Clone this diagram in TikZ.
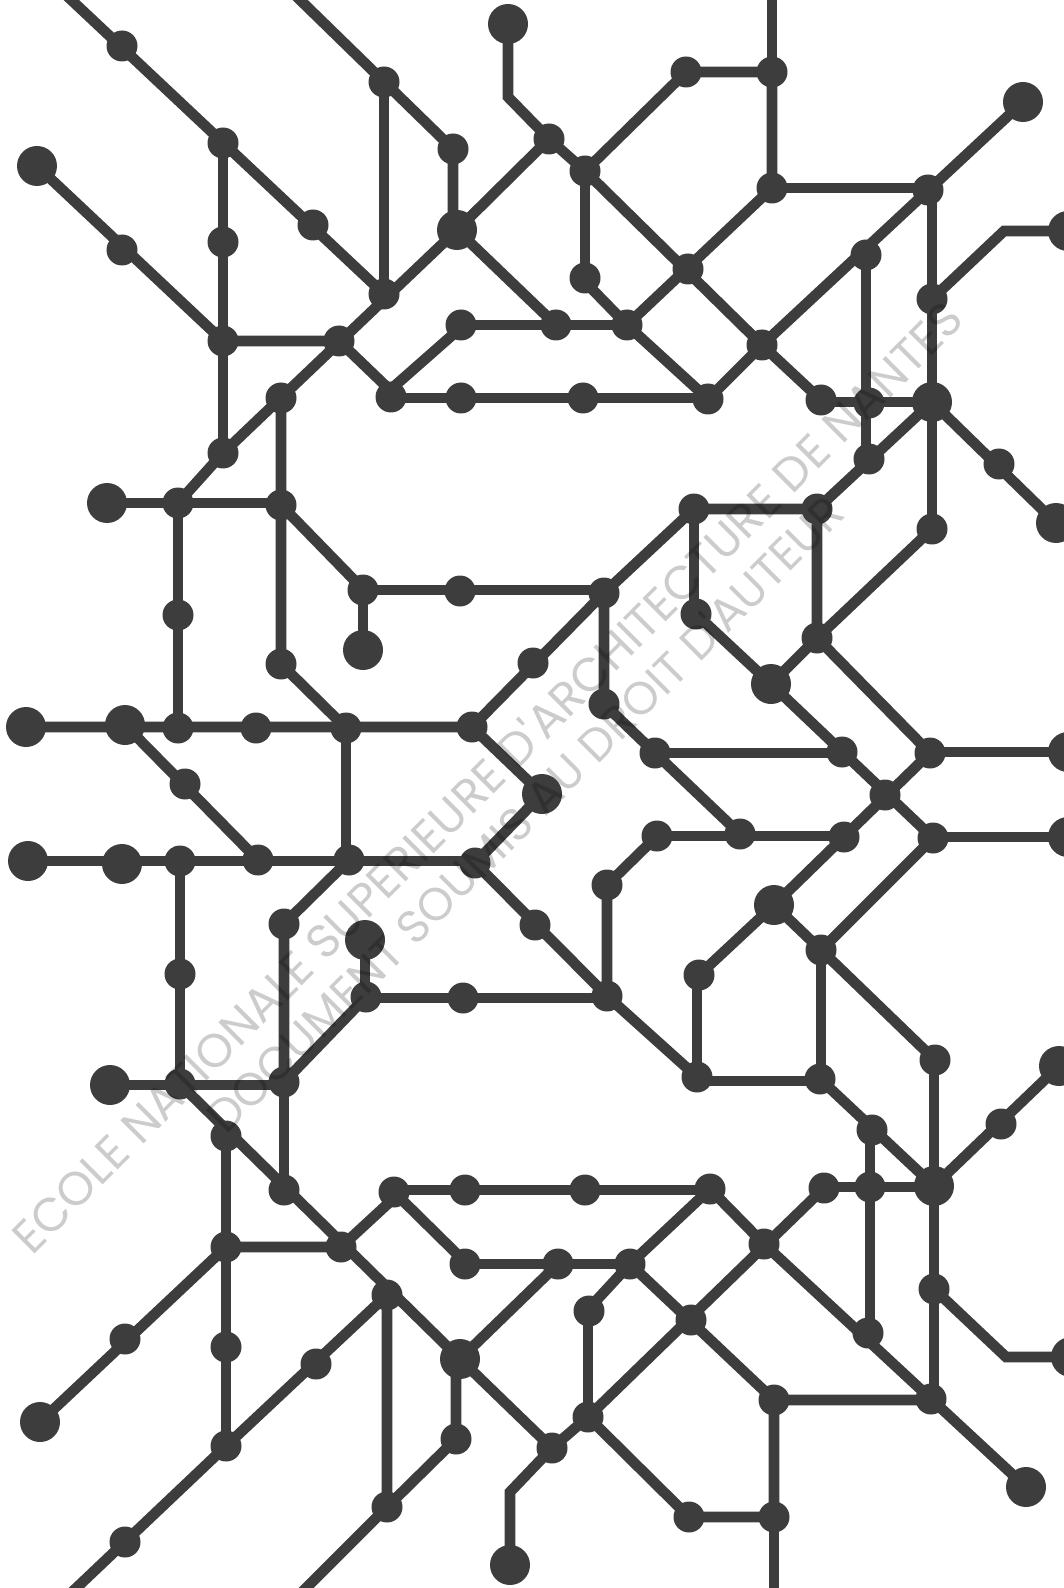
\documentclass[tikz,border=0pt]{standalone}
\usepackage{xcolor}
\usepackage{fontspec}
\newfontfamily\markfont{Poppins}
\definecolor{linegray}{RGB}{61,61,61}
\begin{document}
\begin{tikzpicture}[
  x=0.5pt, y=-0.5pt,
  stopnode/.style={circle, fill=linegray, inner sep=0pt, minimum size=15.5pt},
  hubnode/.style={circle, fill=linegray, inner sep=0pt, minimum size=20pt},
  link/.style={draw=linegray, line width=5.3pt, line join=miter},
  watermark/.style={text=black, text opacity=0.2, rotate=45, font=\markfont\fontsize{23.5}{24}\selectfont, inner sep=0pt}
]
\useasboundingbox (0,0) rectangle (1064,1588);
% upper half
\coordinate (topa) at (66,-5);
\coordinate (topb) at (295,-5);
\coordinate (topc) at (772,-5);
\node[stopnode] (a1) at (122,46) {};
\node[stopnode] (a2) at (223,143) {};
\node[stopnode] (a3) at (313,225) {};
\node[stopnode] (a4) at (384,294) {};
\node[stopnode] (a5) at (384,82) {};
\node[stopnode] (a6) at (453,149) {};
\node[hubnode] (a7) at (457,230) {};
\node[hubnode] (a8) at (508,24) {};
\coordinate (a8b) at (508,97);
\node[hubnode] (a9) at (37,166) {};
\node[stopnode] (a10) at (122,250) {};
\node[stopnode] (a11) at (223,242) {};
\node[stopnode] (a12) at (223,341) {};
\node[stopnode] (a13) at (339,341) {};
\node[stopnode] (a14) at (281,398) {};
\node[stopnode] (a15) at (223,453) {};
\node[stopnode] (a16) at (178,503) {};
\node[stopnode] (a17) at (281,505) {};
\node[hubnode] (a18) at (107,503) {};
\node[stopnode] (a19) at (391,397) {};
\coordinate (a19b) at (390,390);
\node[stopnode] (a20) at (461,398) {};
\node[stopnode] (a21) at (461,325) {};
\coordinate (a21b) at (457,331);
\node[stopnode] (a22) at (549,139) {};
\node[stopnode] (a23) at (585,171) {};
\node[stopnode] (a24) at (686,72) {};
\node[stopnode] (a25) at (772,72) {};
\node[stopnode] (a26) at (772,188) {};
\node[stopnode] (a27) at (928,190) {};
\node[hubnode] (a28) at (1023,102) {};
\node[stopnode] (a29) at (866,255) {};
\node[stopnode] (a30) at (932,299) {};
\coordinate (a30b) at (1004,231);
\node[hubnode] (a31) at (1068,231) {};
\node[stopnode] (a32) at (585,278) {};
\coordinate (a32b) at (590,287);
\node[stopnode] (a33) at (688,269) {};
\node[stopnode] (a34) at (627,325) {};
\node[stopnode] (a35) at (556,325) {};
\node[stopnode] (a36) at (762,345) {};
\node[stopnode] (a37) at (708,399) {};
\node[stopnode] (a38) at (583,398) {};
\node[stopnode] (a39) at (821,400) {};
\node[stopnode] (a40) at (869,403) {};
\node[hubnode] (a41) at (932,402) {};
\node[stopnode] (a42) at (869,459) {};
\node[stopnode] (a43) at (999,464) {};
\node[hubnode] (a44) at (1056,523) {};
\node[stopnode] (a45) at (932,529) {};
\node[stopnode] (a46) at (817,509) {};
\node[stopnode] (a47) at (694,509) {};
\node[stopnode] (a48) at (178,615) {};
\node[stopnode] (a49) at (281,664) {};
\node[stopnode] (a50) at (363,590) {};
\coordinate (a50b) at (357,583);
\node[stopnode] (a51) at (460,591) {};
\node[hubnode] (a52) at (363,650) {};
\node[stopnode] (a53) at (533,663) {};
\node[stopnode] (a54) at (604,593) {};
\node[stopnode] (a55) at (472,727) {};
% middle rows
\node[hubnode] (b1) at (26,727) {};
\node[hubnode] (b2) at (125,725) {};
\node[stopnode] (b3) at (178,728) {};
\node[stopnode] (b4) at (256,728) {};
\node[stopnode] (b5) at (346,728) {};
\node[stopnode] (b6) at (185,784) {};
\node[stopnode] (b7) at (258,860) {};
\node[stopnode] (b8) at (349,860) {};
\node[stopnode] (b9) at (475,863) {};
\node[hubnode] (b10) at (542,794) {};
\node[hubnode] (b11) at (28,861) {};
\node[hubnode] (b12) at (122,864) {};
\node[stopnode] (b13) at (180,861) {};
\node[stopnode] (b14) at (284,924) {};
\node[hubnode] (b15) at (365,940) {};
\node[stopnode] (b16) at (535,925) {};
\node[stopnode] (b17) at (366,997) {};
\node[stopnode] (b18) at (463,998) {};
\node[stopnode] (b19) at (180,974) {};
\node[stopnode] (b20) at (604,704) {};
\node[stopnode] (b21) at (696,614) {};
\node[hubnode] (b22) at (771,684) {};
\node[stopnode] (b23) at (817,638) {};
\node[stopnode] (b24) at (655,753) {};
\node[stopnode] (b25) at (842,752) {};
\node[stopnode] (b26) at (930,753) {};
\node[stopnode] (b27) at (885,795) {};
\node[stopnode] (b28) at (933,838) {};
\node[stopnode] (b29) at (844,837) {};
\node[stopnode] (b30) at (740,834) {};
\node[stopnode] (b31) at (657,836) {};
\node[stopnode] (b32) at (607,885) {};
\node[hubnode] (b33) at (774,905) {};
\node[stopnode] (b34) at (821,950) {};
\node[stopnode] (b35) at (699,975) {};
\node[stopnode] (b36) at (607,996) {};
\node[hubnode] (b37) at (1068,752) {};
\node[hubnode] (b38) at (1068,837) {};
% lower half
\coordinate (bota) at (71,1593);
\coordinate (botb) at (301,1593);
\coordinate (botc) at (774,1593);
\node[hubnode] (c1) at (110,1085) {};
\node[stopnode] (c2) at (180,1084) {};
\node[stopnode] (c3) at (284,1082) {};
\node[stopnode] (c4) at (226,1136) {};
\node[stopnode] (c5) at (284,1190) {};
\node[stopnode] (c6) at (341,1247) {};
\node[stopnode] (c7) at (226,1247) {};
\node[stopnode] (c8) at (394,1192) {};
\coordinate (c8b) at (393,1199);
\node[stopnode] (c9) at (465,1190) {};
\node[stopnode] (c10) at (465,1264) {};
\coordinate (c10b) at (461,1258);
\node[stopnode] (c11) at (387,1295) {};
\node[stopnode] (c12) at (316,1364) {};
\node[stopnode] (c13) at (226,1347) {};
\node[stopnode] (c14) at (125,1339) {};
\node[hubnode] (c15) at (40,1422) {};
\node[stopnode] (c16) at (226,1446) {};
\node[stopnode] (c17) at (125,1542) {};
\node[hubnode] (c18) at (460,1359) {};
\node[stopnode] (c19) at (456,1439) {};
\node[stopnode] (c20) at (387,1507) {};
\coordinate (c21b) at (510,1492);
\node[hubnode] (c21) at (510,1565) {};
\node[stopnode] (c22) at (552,1448) {};
\node[stopnode] (c23) at (697,1077) {};
\coordinate (c23b) at (697,1081);
\node[stopnode] (c24) at (820,1079) {};
\coordinate (c24b) at (821,1081);
\node[stopnode] (c25) at (872,1130) {};
\node[stopnode] (c26) at (935,1060) {};
\node[hubnode] (c27) at (1059,1066) {};
\node[stopnode] (c28) at (1001,1124) {};
\node[hubnode] (c29) at (934,1186) {};
\node[stopnode] (c30) at (870,1187) {};
\node[stopnode] (c31) at (824,1188) {};
\node[stopnode] (c32) at (710,1189) {};
\node[stopnode] (c33) at (585,1190) {};
\node[stopnode] (c34) at (764,1244) {};
\node[stopnode] (c35) at (630,1264) {};
\node[stopnode] (c36) at (558,1264) {};
\node[stopnode] (c37) at (589,1311) {};
\coordinate (c37b) at (593,1304);
\node[stopnode] (c38) at (691,1320) {};
\node[stopnode] (c39) at (934,1289) {};
\coordinate (c39b) at (1006,1357);
\node[hubnode] (c40) at (1071,1357) {};
\node[stopnode] (c41) at (868,1333) {};
\node[stopnode] (c42) at (931,1399) {};
\node[stopnode] (c43) at (774,1400) {};
\node[stopnode] (c44) at (588,1417) {};
\node[stopnode] (c45) at (689,1517) {};
\node[stopnode] (c46) at (774,1517) {};
\node[hubnode] (c47) at (1026,1487) {};

% upper lines
\draw[link] (topa) -- (a4.center);
\draw[link] (a2.center) -- (a15.center);
\draw[link] (a9.center) -- (a12.center) -- (a13.center);
\draw[link] (topb) -- (a6.center) -- (a6.center |- a7.center);
\draw[link] (a5.center) -- (a4.center);
\draw[link] (a16.center) -- (a15.center) -- (a7.center) -- (a22.center);
\draw[link] (a8.center) -- (a8b) -- (a22.center) -- (a23.center);
\draw[link] (a23.center) -- (a24.center) -- (a25.center) -- (a26.center);
\draw[link] (topc) -- (a25.center);
\draw[link] (a26.center) -- (a26.center -| a27.center);
\draw[link] (a23.center) -- (a32.center);
\draw[link] (a32b) -- (a34.center) -- (a26.center);
\draw[link] (a23.center) -- (a36.center) -- (a28.center);
\draw[link] (a30.center |- a27.center) -- (a45.center);
\draw[link] (a30.center) -- (a30b) -- (a31.center);
\draw[link] (a7.center) -- (a35.center);
\draw[link] (a34.center) -- (a37.center) -- (a36.center) -- (a39.center);
\draw[link] (a39.center |- a41.center) -- (a41.center);
\draw[link] (a29.center) -- (a29.center |- a42.center);
\draw[link] (a41.center) -- (a46.center);
\draw[link] (a41.center) -- (a44.center);
\draw[link] (a21.center) -- (a34.center);
\draw[link] (a13.center) -- (a19b) -- (a21b);
\draw[link] (a19.center |- a20.center) -- (a37.center |- a20.center);
\draw[link] (a18.center) -- (a18.center -| a17.center);
\draw[link] (a16.center) -- (b3.center);
\draw[link] (a14.center) -- (a49.center) -- (b5.center);
\draw[link] (a17.center) -- (a50b);
\draw[link] (a50.center) -- (a52.center);
\draw[link] (a50.center) -- (a50.center -| a54.center);
\draw[link] (a55.center) -- (a54.center) -- (a47.center) -- (a46.center) -- (b23.center);
\draw[link] (a45.center) -- (b23.center);
% middle lines
\draw[link] (b1.center) -- (b1.center -| a55.center) -- (b10.center) -- (b9.center);
\draw[link] (b2.center) -- (b7.center);
\draw[link] (b11.center) -- (b11.center -| b9.center);
\draw[link] (b5.center) -- (b5.center |- b8.center);
\draw[link] (b8.center) -- (b14.center) -- (c3.center);
\draw[link] (b9.center) -- (b36.center) -- (c23.center);
\draw[link] (b15.center) -- (b15.center |- b17.center);
\draw[link] (b18.center -| b17.center) -- (b18.center -| b36.center);
\draw[link] (b36.center) -- (b32.center) -- (b31.center);
\draw[link] (b31.center) -- (b31.center -| b29.center);
\draw[link] (b17.center) -- (c3.center);
\draw[link] (a54.center) -- (b20.center) -- (b24.center);
\draw[link] (b24.center) -- (b24.center -| b25.center);
\draw[link] (b24.center) -- (b30.center);
\draw[link] (a47.center) -- (a47.center |- b21.center);
\draw[link] (b21.center) -- (b22.center) -- (b23.center) -- (b26.center);
\draw[link] (b37.center) -- (b37.center -| b26.center);
\draw[link] (b22.center) -- (b28.center);
\draw[link] (b38.center) -- (b38.center -| b28.center);
\draw[link] (b26.center) -- (b33.center) -- (b35.center);
\draw[link] (c23.center |- b35.center) -- (c23.center);
\draw[link] (c23b) -- (c24b);
\draw[link] (b28.center) -- (b34.center) -- (b33.center);
\draw[link] (b34.center) -- (b34.center |- c24.center);
\draw[link] (c24.center) -- (c29.center);
\draw[link] (b34.center) -- (c26.center);
\draw[link] (b13.center) -- (c2.center);
% lower lines
\draw[link] (c1.center) -- (c1.center -| c3.center);
\draw[link] (c3.center) -- (c5.center);
\draw[link] (c2.center) -- (c18.center) -- (c22.center);
\draw[link] (c4.center) -- (c16.center);
\draw[link] (c15.center) -- (c7.center) -- (c6.center) -- (c8b);
\draw[link] (c9.center -| c8.center) -- (c9.center -| c32.center);
\draw[link] (c8.center) -- (c10b);
\draw[link] (c10.center) -- (c35.center);
\draw[link] (c36.center) -- (c18.center);
\draw[link] (c19.center |- c18.center) -- (c19.center) -- (c20.center) -- (c11.center);
\draw[link] (c11.center) -- (c16.center) -- (bota);
\draw[link] (c20.center) -- (botb);
\draw[link] (c21.center) -- (c21b) -- (c22.center) -- (c44.center) -- (c31.center);
\draw[link] (c30.center -| c31.center) -- (c30.center -| c29.center);
\draw[link] (c44.center |- c37.center) -- (c44.center);
\draw[link] (c37b) -- (c35.center) -- (c32.center) -- (c34.center) -- (c47.center);
\draw[link] (c35.center) -- (c43.center) -- (c43.center -| c42.center);
\draw[link] (c39.center |- c26.center) -- (c39.center |- c42.center);
\draw[link] (c39.center) -- (c39b) -- (c40.center);
\draw[link] (c29.center) -- (c27.center);
\draw[link] (c30.center |- c25.center) -- (c30.center |- c41.center);
\draw[link] (c44.center) -- (c45.center) -- (c46.center) -- (c43.center);
\draw[link] (c46.center) -- (botc);
% watermark over everything
\node[watermark] (markone) at (486,776) {ECOLE NATIONALE SUPERIEURE D'ARCHITECTURE DE NANTES};
\node[watermark, font=\markfont\fontsize{22.9}{24}\selectfont] (marktwo) at (524,813) {DOCUMENT SOUMIS AU DROIT D'AUTEUR};
\end{tikzpicture}
\end{document}
